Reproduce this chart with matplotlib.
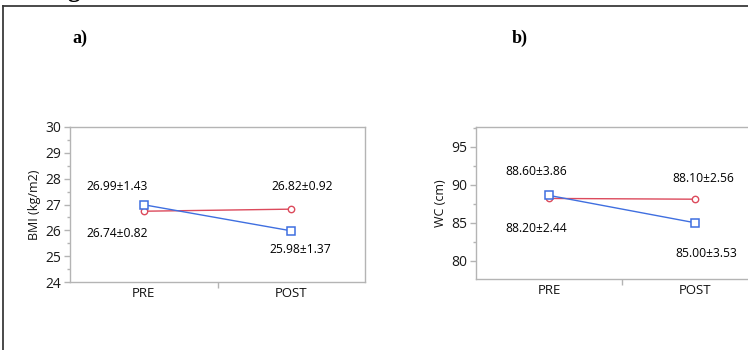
import matplotlib
matplotlib.use("Agg")
import matplotlib.pyplot as plt
from matplotlib.ticker import MultipleLocator, FixedLocator, NullFormatter
from matplotlib.lines import Line2D

categories = ["PRE", "POST"]
bmi_square = [26.99, 25.98]
bmi_circle = [26.74, 26.82]
bmi_square_labels = ["26.99±1.43", "25.98±1.37"]
bmi_circle_labels = ["26.74±0.82", "26.82±0.92"]
wc_square = [88.60, 85.00]
wc_circle = [88.20, 88.10]
wc_square_labels = ["88.60±3.86", "85.00±3.53"]
wc_circle_labels = ["88.20±2.44", "88.10±2.56"]

FONT = "Open Sans"
RED = "#dc4a5c"
BLUE = "#3f6fe0"
SPINE = "#b4b4b4"
ANN = 8.7

fig = plt.figure(figsize=(7.48, 3.5), dpi=100)
fig.patch.set_facecolor("white")

# page frame lines (with the cut-off tail of a caption glyph above)
fig.text(67/748, 1 + 3.5/350, "g", fontsize=18, fontweight="bold", family="Liberation Serif", va="baseline")
fig.add_artist(Line2D([3/748, 3/748], [0, 1 - 6/350], color="#3a3a3a", lw=1.3, transform=fig.transFigure))
fig.add_artist(Line2D([3/748, 1], [1 - 6/350, 1 - 6/350], color="#3a3a3a", lw=1.3, transform=fig.transFigure))

def setup(ax, ylim, major, minor, ylabel):
    x = list(range(len(categories)))
    ax.set_xlim(-0.5, 1.5)
    ax.set_ylim(*ylim)
    ax.yaxis.set_major_locator(MultipleLocator(major))
    ax.yaxis.set_minor_locator(MultipleLocator(minor))
    ax.xaxis.set_major_locator(FixedLocator([0.5]))
    ax.xaxis.set_major_formatter(NullFormatter())
    for i, c in enumerate(categories):
        ax.text(i, -0.035, c, transform=ax.get_xaxis_transform(), ha="center", va="top",
                fontsize=9.5, family=FONT, color="#111111")
    for s in ax.spines.values():
        s.set_color(SPINE)
        s.set_linewidth(1.0)
    ax.tick_params(axis="both", which="major", color=SPINE, length=4.5, width=1)
    ax.tick_params(axis="y", which="minor", color=SPINE, length=2.2, width=1)
    ax.tick_params(axis="y", labelsize=10, labelcolor="#1a1a1a", pad=2)
    for lab in ax.get_yticklabels():
        lab.set_family(FONT)
    ax.set_ylabel(ylabel, fontsize=9, family=FONT, color="#111111", labelpad=3)
    return x

# Panel a
ax1 = fig.add_axes([70/748, 68/350, 295/748, 155/350])
x = setup(ax1, (24, 30), 1, 0.5, "BMI (kg/m2)")
ax1.plot(x, bmi_circle, color=RED, lw=1.0, marker="o", ms=4.6, mfc="white", mec=RED, mew=1.0, zorder=3)
ax1.plot(x, bmi_square, color=BLUE, lw=1.0, marker="s", ms=6, mfc="white", mec=BLUE, mew=1.1, zorder=4)
ax1.text(-0.18, 27.68, bmi_square_labels[0], ha="center", va="center", fontsize=ANN, family=FONT)
ax1.text(-0.18, 25.86, bmi_circle_labels[0], ha="center", va="center", fontsize=ANN, family=FONT)
ax1.text(1.075, 27.68, bmi_circle_labels[1], ha="center", va="center", fontsize=ANN, family=FONT)
ax1.text(1.06, 25.24, bmi_square_labels[1], ha="center", va="center", fontsize=ANN, family=FONT)

# Panel b
ax2 = fig.add_axes([476/748, 71/350, 292/748, 152/350])
x = setup(ax2, (77.6, 97.6), 5, 2.5, "WC (cm)")
ax2.plot(x, wc_circle, color=RED, lw=1.0, marker="o", ms=4.6, mfc="white", mec=RED, mew=1.0, zorder=3)
ax2.plot(x, wc_square, color=BLUE, lw=1.0, marker="s", ms=6, mfc="white", mec=BLUE, mew=1.1, zorder=4)
ax2.text(-0.09, 91.8, wc_square_labels[0], ha="center", va="center", fontsize=ANN, family=FONT)
ax2.text(-0.09, 84.3, wc_circle_labels[0], ha="center", va="center", fontsize=ANN, family=FONT)
ax2.text(1.06, 90.8, wc_circle_labels[1], ha="center", va="center", fontsize=ANN, family=FONT)
ax2.text(1.075, 81.0, wc_square_labels[1], ha="center", va="center", fontsize=ANN, family=FONT)

fig.text(72/748, 1 - 38/350, "a)", fontsize=13, fontweight="bold", family="Liberation Serif", va="center", ha="left")
fig.text(512/748, 1 - 38/350, "b)", fontsize=13, fontweight="bold", family="Liberation Serif", va="center", ha="left")

fig.savefig("out.png", dpi=100)
